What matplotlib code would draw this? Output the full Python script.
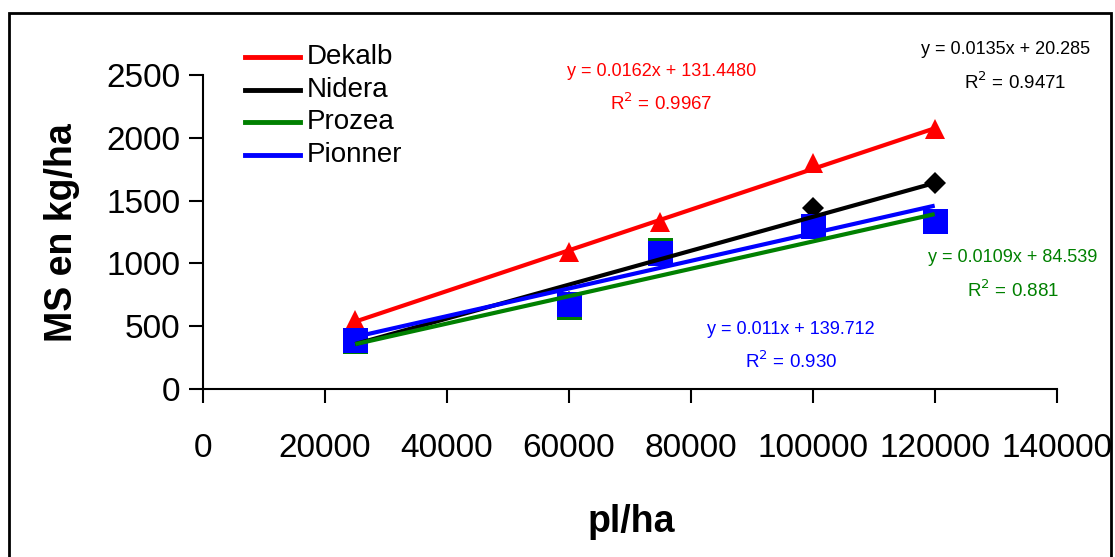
import matplotlib
matplotlib.use("Agg")
import matplotlib.pyplot as plt
from matplotlib.patches import Rectangle
from matplotlib.lines import Line2D
import numpy as np

plt.rcParams['font.family'] = ['Liberation Sans', 'DejaVu Sans']

x_vals = [25000, 60000, 75000, 100000, 120000]
dekalb = [550, 1090, 1330, 1800, 2070]
nidera = [390, 690, 1090, 1440, 1640]
prozea = [385, 655, 1105, 1300, 1335]
pionner = [390, 680, 1080, 1300, 1340]

names = ['Dekalb', 'Nidera', 'Prozea', 'Pionner']
colors = ['#ff0000', '#000000', '#008000', '#0000ff']
markers = ['^', 'D', 's', 's']
msizes = [15, 11, 18, 18]
slopes = [0.0162, 0.0135, 0.0109, 0.011]
intercepts = [131.4480, 20.285, 84.539, 139.712]
eq_texts = ['y = 0.0162x + 131.4480', 'y = 0.0135x + 20.285',
            'y = 0.0109x + 84.539', 'y = 0.011x + 139.712']
r2_texts = ['R$^2$ = 0.9967', 'R$^2$ = 0.9471', 'R$^2$ = 0.881', 'R$^2$ = 0.930']

fig = plt.figure(figsize=(11.15, 5.57), dpi=100)
ax = fig.add_axes([0.1818, 0.3016, 0.9477 - 0.1818, 0.8654 - 0.3016])

series = [dekalb, nidera, prozea, pionner]
for s, c, m, ms in zip(series, colors, markers, msizes):
    ax.plot(x_vals, s, linestyle='none', marker=m, color=c, markersize=ms,
            markeredgewidth=0, zorder=3)

xfit = np.array([min(x_vals), max(x_vals)])
order = [0, 1, 2, 3]
for i in order:
    ax.plot(xfit, slopes[i] * xfit + intercepts[i], color=colors[i], lw=3.0,
            solid_capstyle='butt', zorder=4)

ax.set_xlim(0, 140000)
ax.set_ylim(0, 2500)
ax.set_xticks(np.arange(0, 140001, 20000))
ax.set_yticks(np.arange(0, 2501, 500))
ax.tick_params(axis='both', direction='out', length=10, width=1.5,
               labelsize=24)
ax.tick_params(axis='x', pad=22)
ax.tick_params(axis='y', pad=6)
for sp in ['top', 'right']:
    ax.spines[sp].set_visible(False)
for sp in ['left', 'bottom']:
    ax.spines[sp].set_linewidth(1.5)

fig.text(631 / 1115, 1 - 522 / 557, 'pl/ha', ha='center', va='center',
         fontsize=27, fontweight='bold')
fig.text(62 / 1115, 1 - 233 / 557, 'MS en kg/ha', ha='center', va='center',
         fontsize=27, fontweight='bold', rotation=90)

# legend
leg_y = [57, 90, 122, 155]
for nm, c, yy in zip(names, colors, leg_y):
    fy = 1 - yy / 557
    fig.add_artist(Line2D([245 / 1115, 300 / 1115], [fy, fy], color=c, lw=3.5,
                          transform=fig.transFigure))
    fig.text(307 / 1115, fy, nm, ha='left', va='center', fontsize=20)

eq_pos = [((662, 72, 'center'), (661, 103)), ((1006, 50, 'center'), (1015, 82)),
          ((1097, 258, 'right'), (1013, 290)), ((791, 330, 'center'), (791, 361))]
for i in range(4):
    (ex, ey, eha), (rx, ry) = eq_pos[i]
    fig.text(ex / 1115, 1 - ey / 557, eq_texts[i], ha=eha, va='center',
             fontsize=13, color=colors[i])
    fig.text(rx / 1115, 1 - ry / 557, r2_texts[i], ha='center', va='center',
             fontsize=13.5, color=colors[i])

fig.add_artist(Rectangle((9 / 1115, -0.02), (1111 - 9) / 1115, (557 - 13) / 557 + 0.02,
                         transform=fig.transFigure, fill=False, lw=2, ec='black'))

fig.savefig('out.png', dpi=100)
